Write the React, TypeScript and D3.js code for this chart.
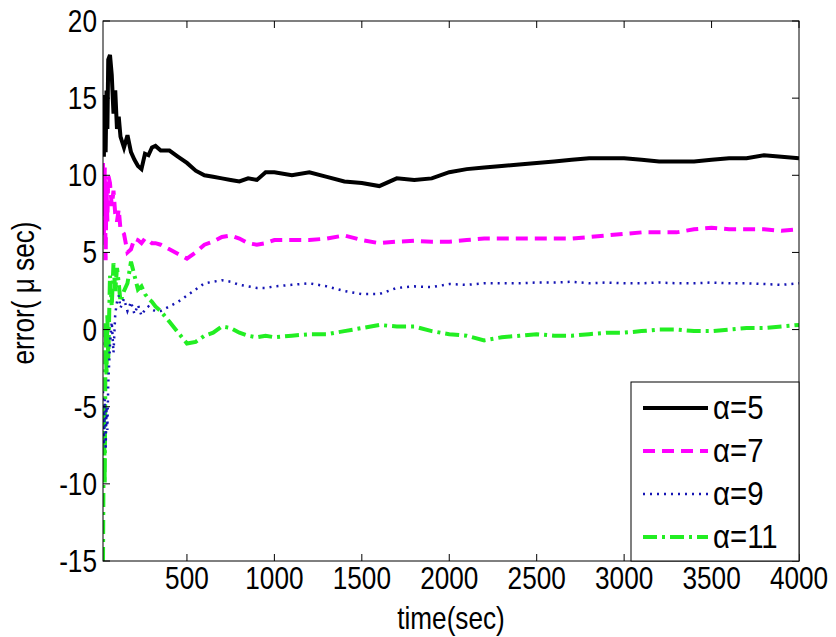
import { useEffect, useRef } from "react";
import * as d3 from "d3";

// time axis shared by all four runs (sec)
const times = [
  20, 25, 30, 35, 40, 45, 50, 60, 70, 80, 90, 100, 110, 120, 140, 160, 180, 200,
  220, 240, 260, 280, 300, 320, 350, 400, 450, 500, 550, 600, 650, 700, 750, 800,
  850, 900, 950, 1000, 1100, 1200, 1300, 1400, 1500, 1600, 1700, 1800, 1900, 2000,
  2100, 2200, 2300, 2400, 2500, 2600, 2700, 2800, 2900, 3000, 3100, 3200, 3300,
  3400, 3500, 3600, 3700, 3800, 3900, 4000,
];

// error in micro-seconds, one array per alpha
const alpha5 = [
  15.2, 11.2, 14.8, 11.5, 15.5, 13.0, 17.5, 17.8, 16.5, 14.0, 15.5, 13.0, 13.8, 12.5, 11.8, 12.6, 11.5, 11.0,
  10.6, 10.4, 11.4, 11.3, 11.8, 11.9, 11.6, 11.6, 11.2, 10.8, 10.3, 10.0, 9.9, 9.8, 9.7, 9.6,
  9.8, 9.7, 10.2, 10.2, 10.0, 10.2, 9.9, 9.6, 9.5, 9.3, 9.8, 9.7, 9.8, 10.2,
  10.4, 10.5, 10.6, 10.7, 10.8, 10.9, 11.0, 11.1, 11.1, 11.1, 11.0, 10.9, 10.9,
  10.9, 11.0, 11.1, 11.1, 11.3, 11.2, 11.1,
];
const alpha7 = [
  10.8, 6.0, 10.5, 4.5, 9.5, 7.0, 10.0, 9.5, 8.0, 9.0, 7.5, 7.0, 7.8, 6.5, 6.2, 5.0, 5.2, 5.9,
  5.8, 5.6, 5.9, 5.8, 5.6, 5.6, 5.5, 5.2, 4.9, 4.6, 5.0, 5.5, 5.7, 6.0, 6.1, 5.9,
  5.6, 5.5, 5.6, 5.8, 5.8, 5.8, 5.9, 6.1, 5.8, 5.6, 5.7, 5.75, 5.7, 5.7,
  5.8, 5.9, 5.9, 5.9, 5.9, 5.9, 5.9, 6.0, 6.1, 6.2, 6.3, 6.3, 6.3,
  6.5, 6.6, 6.5, 6.5, 6.5, 6.4, 6.5,
];
const alpha9 = [
  -4.0, -7.5, -4.5, -7.8, -5.0, -6.5, -3.5, -1.0, 0.5, -1.5, 1.0, 1.8, 2.2, 1.4, 2.0, 1.2, 1.8, 1.0,
  1.6, 0.9, 1.3, 1.5, 1.3, 1.2, 1.2, 1.5, 1.8, 2.2, 2.6, 3.0, 3.1, 3.2, 3.1, 2.9,
  2.8, 2.7, 2.7, 2.8, 2.9, 3.0, 2.8, 2.5, 2.3, 2.3, 2.7, 2.8, 2.75, 2.95,
  2.9, 3.0, 3.0, 3.0, 3.05, 3.05, 3.1, 3.0, 3.05, 3.0, 3.0, 3.05, 3.0,
  3.0, 3.05, 3.0, 3.0, 2.95, 2.9, 3.0,
];
const alpha11 = [
  -15.0, -5.0, -10.0, 0.5, -3.0, 1.0, -2.0, 3.5, 1.5, 4.3, 2.5, 4.0, 3.0, 1.8, 2.5, 3.0, 4.4, 3.5,
  2.6, 2.8, 2.3, 2.0, 1.8, 1.5, 1.2, 0.5, -0.2, -0.9, -0.8, -0.4, -0.2, 0.2, 0.1, -0.2,
  -0.4, -0.5, -0.4, -0.5, -0.4, -0.3, -0.3, -0.1, 0.1, 0.3, 0.2, 0.2, -0.1, -0.3,
  -0.4, -0.7, -0.5, -0.4, -0.3, -0.4, -0.4, -0.3, -0.2, -0.2, -0.1, 0.0, 0.0,
  -0.1, -0.1, 0.0, 0.1, 0.1, 0.2, 0.3,
];

const labels = ["α=5", "α=7", "α=9", "α=11"];
const xTicks = [500, 1000, 1500, 2000, 2500, 3000, 3500, 4000];
const yTicks = [-15, -10, -5, 0, 5, 10, 15, 20];

export default function App() {
  const ref = useRef<SVGSVGElement>(null);

  useEffect(() => {
    const width = 836;
    const height = 637;
    const left = 103, right = 799, top = 21, bottom = 561;
    const font = "'Liberation Sans', Arial, sans-serif";
    const stretch = "scale(0.97,1.16)"; // the original lettering is tall and narrow

    const svg = d3.select(ref.current);
    svg.selectAll("*").remove();

    const x = d3.scaleLinear([20, 4000], [left, right]);
    const y = d3.scaleLinear([-15, 20], [bottom, top]);

    const series = [
      { name: labels[0], values: alpha5, color: "#000000", width: 4, dash: null },
      { name: labels[1], values: alpha7, color: "#ff00ff", width: 4, dash: "12,7" },
      { name: labels[2], values: alpha9, color: "#1414b4", width: 2.5, dash: "2,5" },
      { name: labels[3], values: alpha11, color: "#22ee22", width: 4, dash: "14,5,3,5" },
    ];

    svg.append("rect")
      .attr("width", width).attr("height", height).attr("fill", "white");

    const line = d3.line<number>()
      .x((_, i) => x(times[i]))
      .y(d => y(d));

    svg.append("defs").append("clipPath").attr("id", "plot-clip")
      .append("rect")
      .attr("x", left).attr("y", top)
      .attr("width", right - left).attr("height", bottom - top);

    const plot = svg.append("g").attr("clip-path", "url(#plot-clip)");
    // draw from last to first so black sits on top like the original
    [...series].reverse().forEach(s => {
      plot.append("path")
        .attr("fill", "none")
        .attr("stroke", s.color)
        .attr("stroke-width", s.width)
        .attr("stroke-dasharray", s.dash)
        .attr("d", line(s.values));
    });

    // box
    svg.append("rect")
      .attr("x", left).attr("y", top)
      .attr("width", right - left).attr("height", bottom - top)
      .attr("fill", "none").attr("stroke", "black").attr("stroke-width", 1);

    const tickLen = 7;
    const axes = svg.append("g").attr("stroke", "black").attr("stroke-width", 1);
    xTicks.forEach(t => {
      axes.append("line").attr("x1", x(t)).attr("x2", x(t)).attr("y1", bottom).attr("y2", bottom - tickLen);
      axes.append("line").attr("x1", x(t)).attr("x2", x(t)).attr("y1", top).attr("y2", top + tickLen);
    });
    yTicks.forEach(t => {
      axes.append("line").attr("x1", left).attr("x2", left + tickLen).attr("y1", y(t)).attr("y2", y(t));
      axes.append("line").attr("x1", right).attr("x2", right - tickLen).attr("y1", y(t)).attr("y2", y(t));
    });

    const txt = svg.append("g").attr("font-family", font).attr("font-size", 27).attr("fill", "black");

    xTicks.forEach(t => {
      txt.append("text")
        .attr("transform", `translate(${x(t)},589) ${stretch}`)
        .attr("text-anchor", "middle")
        .text(t);
    });
    yTicks.forEach(t => {
      txt.append("text")
        .attr("transform", `translate(${left - 6},${y(t) + 11}) ${stretch}`)
        .attr("text-anchor", "end")
        .text(t);
    });

    txt.append("text")
      .attr("transform", `translate(${(left + right) / 2},629) ${stretch}`)
      .attr("text-anchor", "middle")
      .text("time(sec)");

    txt.append("text")
      .attr("transform", `translate(34,${(top + bottom) / 2 + 2}) rotate(-90) ${stretch}`)
      .attr("text-anchor", "middle")
      .text("error( μ sec)");

    // legend
    const lg = svg.append("g");
    lg.append("rect")
      .attr("x", 631).attr("y", 382)
      .attr("width", right - 631).attr("height", bottom - 382)
      .attr("fill", "white").attr("stroke", "black").attr("stroke-width", 1);

    const rowY = d3.scalePoint(labels, [408, 537]);
    series.forEach(s => {
      const ry = rowY(s.name)!;
      lg.append("line")
        .attr("x1", 643).attr("x2", 708)
        .attr("y1", ry).attr("y2", ry)
        .attr("stroke", s.color)
        .attr("stroke-width", s.width)
        .attr("stroke-dasharray", s.dash);
      lg.append("text")
        .attr("transform", `translate(713,${ry + 11}) scale(1.05,1.16)`)
        .attr("font-family", font).attr("font-size", 28)
        .text(s.name);
    });
  }, []);

  return (
    <svg
      ref={ref}
      width={836}
      height={637}
      style={{ position: "absolute", left: 0, top: 0 }}
    />
  );
}
